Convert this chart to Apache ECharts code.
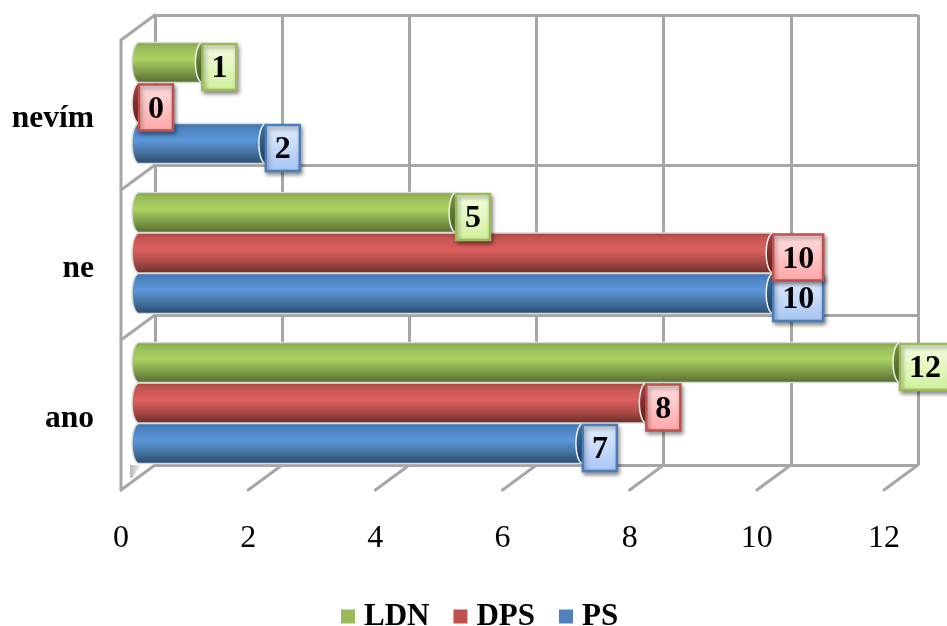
<!DOCTYPE html>
<html>
<head>
<meta charset="utf-8">
<style>html,body{margin:0;padding:0;background:#fff}#c{width:947px;height:626px}</style>
<script src="https://cdn.jsdelivr.net/npm/echarts@6/dist/echarts.min.js"></script>
</head>
<body>
<div id="c"></div>
<script>
const categories = ['ano', 'ne', 'nevím'];
const xTicks = [0, 2, 4, 6, 8, 10, 12];
const valuesPS = [7, 10, 2];
const valuesDPS = [8, 10, 0];
const valuesLDN = [12, 5, 1];
const legendNames = ['LDN', 'DPS', 'PS'];

const FONT = '"Liberation Serif", serif';
const GREY = '#a6a6a6';
const DEPTH_X = 34, DEPTH_Y = 25;
const CAP_RX = 7, BAR_H = 40, BAR_PITCH = 40.5;

function vGrad(stops) {
  return { type: 'linear', x: 0, y: 0, x2: 0, y2: 1,
    colorStops: stops.map(s => ({ offset: s[0], color: s[1] })) };
}

const looks = {
  PS: {
    base: '#4f81bd', border: '#4a7ebb',
    tube: [[0, '#3d6ea6'], [0.12, '#4a80bd'], [0.42, '#5c97da'], [0.72, '#44739f'], [1, '#28496d']],
    cap: [[0, '#4a76a8'], [0.5, '#2f5a88'], [1, '#203f60']],
    box: [[0, '#e3eefd'], [0.5, '#c6daf9'], [1, '#a6c4f4']]
  },
  DPS: {
    base: '#c0504d', border: '#c0504d',
    tube: [[0, '#9d4340'], [0.12, '#c05451'], [0.42, '#de605d'], [0.72, '#a84a47'], [1, '#6d2b29']],
    cap: [[0, '#a84a47'], [0.5, '#83302e'], [1, '#5e2220']],
    box: [[0, '#ffdfdf'], [0.5, '#ffc4c4'], [1, '#ffa6a6']]
  },
  LDN: {
    base: '#9bbb59', border: '#9bbb59',
    tube: [[0, '#7f9c49'], [0.12, '#97ba58'], [0.42, '#aad25f'], [0.72, '#7f9c49'], [1, '#55692f']],
    cap: [[0, '#7f9c49'], [0.5, '#5f7a35'], [1, '#4b5f29']],
    box: [[0, '#f3fde0'], [0.5, '#e4f8c0'], [1, '#cfef9a']]
  }
};

function arcPoints(cx, cy, rx, ry, from, to, n) {
  const pts = [];
  for (let i = 0; i <= n; i++) {
    const a = from + (to - from) * i / n;
    pts.push([cx + rx * Math.cos(a), cy + ry * Math.sin(a)]);
  }
  return pts;
}

// Cylinder body, end cap and value tag for one bar.
function renderTube(name, order) {
  const look = looks[name];
  return function (params, api) {
    const v = api.value(0);
    const p = api.coord([v, api.value(1)]);
    const z = api.coord([0, api.value(1)]);
    const cy = p[1] - (order - 1) * BAR_PITCH;
    const ry = BAR_H / 2;
    const left = arcPoints(z[0], cy, CAP_RX, ry, Math.PI / 2, Math.PI * 1.5, 16);
    const body = left.concat([[p[0], cy - ry], [p[0], cy + ry]]);
    const label = String(v);
    const boxW = 18 + 16 * label.length, boxH = 46;
    const boxTop = cy - 18.5;
    return {
      type: 'group',
      children: [
        { type: 'polygon', z2: 10 + order,
          shape: { points: body },
          style: { fill: vGrad(look.tube), stroke: '#d9dbd6', lineWidth: 1.5 } },
        { type: 'polygon', z2: 10 + order,
          shape: { points: arcPoints(p[0], cy, CAP_RX, ry, 0, Math.PI * 2, 32) },
          style: { fill: vGrad(look.cap), stroke: '#eef1ea', lineWidth: 1.5 } },
        { type: 'rect', z2: 100 + order,
          shape: { x: p[0], y: boxTop, width: boxW, height: boxH },
          style: { fill: vGrad(look.box), stroke: look.border, lineWidth: 2.5,
            shadowBlur: 4, shadowOffsetX: 1.5, shadowOffsetY: 2.5, shadowColor: 'rgba(0,0,0,0.4)' } },
        { type: 'text', z2: 110 + order,
          x: p[0] + boxW / 2, y: boxTop + boxH / 2 + 2,
          style: { text: label, fill: '#000', font: 'bold 32px ' + FONT,
            align: 'center', verticalAlign: 'middle' } }
      ]
    };
  };
}

// Side wall and floor of the box: slanted strokes running forward from the back wall.
function renderFrame(params, api) {
  const base = api.coord([api.value(0), 0]);
  const band = api.size([0, 1])[1];
  const floorY = base[1] + band / 2;
  const strokeStyle = { stroke: GREY, lineWidth: 3, lineCap: 'round' };
  const children = [{
    type: 'line',
    shape: { x1: base[0], y1: floorY, x2: base[0] - DEPTH_X, y2: floorY + DEPTH_Y },
    style: strokeStyle
  }];
  if (params.dataIndex === 0) {
    categories.forEach((c, i) => {
      const y = floorY - band * (i + 1);
      children.push({
        type: 'line',
        shape: { x1: base[0], y1: y, x2: base[0] - DEPTH_X, y2: y + DEPTH_Y },
        style: strokeStyle
      });
    });
    children.push({
      type: 'line',
      shape: { x1: base[0] - DEPTH_X, y1: floorY - band * categories.length + DEPTH_Y,
        x2: base[0] - DEPTH_X, y2: floorY + DEPTH_Y },
      style: strokeStyle
    });
    children.push({
      type: 'polygon',
      shape: { points: [[base[0] - 25, floorY], [base[0] - 14, floorY], [base[0] - 23, floorY + 13], [base[0] - 25, floorY + 13]] },
      style: { fill: { type: 'linear', x: 0, y: 0, x2: 1, y2: 0,
        colorStops: [{ offset: 0, color: '#b8b8b8' }, { offset: 1, color: '#f4f4f4' }] } }
    });
  }
  return { type: 'group', children };
}

function tubeSeries(name, order, values) {
  return {
    type: 'custom', name, xAxisIndex: 2, yAxisIndex: 2, clip: false, z: 5,
    itemStyle: { color: looks[name].base },
    encode: { x: 0, y: 1 },
    data: values.map((v, i) => [v, i]),
    renderItem: renderTube(name, order)
  };
}

const blankX = { type: 'value', min: 0, max: 12, interval: 2,
  axisLine: { show: false }, axisTick: { show: false }, axisLabel: { show: false }, splitLine: { show: false } };
const blankY = { type: 'category', data: categories,
  axisLine: { show: false }, axisTick: { show: false }, axisLabel: { show: false }, splitLine: { show: false } };

const chart = echarts.init(document.getElementById('c'), null, { renderer: 'canvas' });
chart.setOption({
  animation: false,
  backgroundColor: '#fff',
  legend: {
    data: legendNames, left: 336, top: 596, padding: 5,
    icon: 'rect', itemWidth: 14, itemHeight: 14, itemGap: 24,
    selectedMode: false,
    textStyle: { fontFamily: FONT, fontWeight: 'bold', fontSize: 31, color: '#000', padding: [0, 0, 0, 4] }
  },
  grid: [
    { left: 155, top: 15, width: 763, height: 450 },
    { left: 121, top: 44, width: 763, height: 450 },
    { left: 139, top: 28, width: 761, height: 450 }
  ],
  xAxis: [
    Object.assign({}, blankX, { gridIndex: 0,
      splitLine: { show: true, showMinLine: true, showMaxLine: true, lineStyle: { color: GREY, width: 3 } } }),
    Object.assign({}, blankX, { gridIndex: 1,
      axisLabel: { show: true, margin: 29, fontFamily: FONT, fontSize: 32, color: '#000',
        hideOverlap: false, showMinLabel: true, showMaxLabel: true } }),
    Object.assign({}, blankX, { gridIndex: 2 })
  ],
  yAxis: [
    Object.assign({}, blankY, { gridIndex: 0,
      splitLine: { show: true, showMinLine: true, showMaxLine: true, lineStyle: { color: GREY, width: 3 } } }),
    Object.assign({}, blankY, { gridIndex: 1,
      axisLabel: { show: true, margin: 27, fontFamily: FONT, fontWeight: 'bold', fontSize: 31.5, color: '#000' } }),
    Object.assign({}, blankY, { gridIndex: 2 })
  ],
  series: [
    { type: 'custom', name: 'frame', xAxisIndex: 0, yAxisIndex: 0, clip: false, silent: true, z: 3,
      encode: { x: 0 }, data: xTicks.map(t => [t]), renderItem: renderFrame },
    tubeSeries('PS', 0, valuesPS),
    tubeSeries('DPS', 1, valuesDPS),
    tubeSeries('LDN', 2, valuesLDN)
  ]
});
</script>
</body>
</html>
